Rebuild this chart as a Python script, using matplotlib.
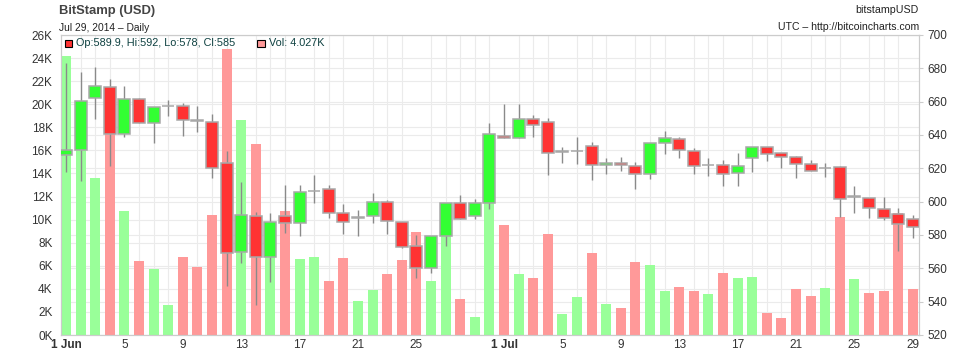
import matplotlib
matplotlib.use("Agg")
import matplotlib.pyplot as plt
import matplotlib.transforms as mtransforms
from matplotlib.lines import Line2D
from matplotlib.patches import Rectangle
import numpy as np
import pandas as pd

plt.rcParams['font.family'] = ['Liberation Sans', 'DejaVu Sans']

# daily OHLC for bitstampUSD, 1 Jun - 29 Jul 2014
dates = pd.date_range('2014-06-01', '2014-07-29', freq='D')

opens = [628, 631, 662, 668.6, 640.4, 661.4, 647, 657.2, 657.6, 648.8,
         648, 623.4, 569.6, 591.6, 566.6, 591.6, 587, 606.2, 607.6, 593,
         590.4, 591.4, 600, 588, 573.6, 560, 579.6, 599.4, 591.4, 599.4,
         639.4, 638, 649.8, 648, 629.6, 630.4, 633.4, 622, 623.4, 621.6,
         616.6, 635, 637.4, 630.6, 621.8, 622, 617, 626.4, 632.6, 629.4,
         626.6, 622.4, 620.2, 620.6, 603.6, 602.4, 595.6, 592.6, 589.9]
highs = [683, 677.6, 680.6, 673.4, 669.4, 662, 657, 661, 659, 657.4,
         652.4, 630.4, 612, 594, 593.4, 610, 610, 616, 610, 598.6,
         595, 605, 601, 588, 580, 579.6, 599.4, 604, 601.4, 647,
         658.6, 658.6, 652, 650, 632.6, 638.6, 635.6, 626, 627, 623.6,
         635, 642.4, 638.6, 632, 626, 625, 629, 632.6, 632.6, 629.4,
         627.6, 625, 623, 621.6, 609.4, 602.4, 603, 596, 592]
lows = [618, 612.6, 649.4, 621.4, 639, 647, 635.4, 651.6, 639.4, 642,
        614.4, 549.6, 563, 538, 552, 581.4, 579.6, 599.4, 590, 580.6,
        579.6, 587.4, 580.6, 572, 554, 557, 573.6, 589.4, 589.4, 595.4,
        638, 638, 638.6, 616, 623, 622.4, 613, 616.4, 618.6, 607.4,
        613.4, 628.4, 626, 616.4, 615.4, 609.6, 609.6, 618, 624.6, 620,
        614.4, 618.4, 615, 591, 593, 590, 589, 570.4, 578]
closes = [631, 660.6, 669.6, 640.4, 661.4, 647, 657, 657.4, 649, 648.6,
          620.4, 569, 592, 566.6, 588, 587, 606, 606.4, 593.4, 587.6,
          590.6, 600, 588.4, 572.6, 560, 579.6, 599.4, 589.4, 599.4, 640.6,
          638, 649.8, 646, 629, 630.4, 630.6, 622, 623.4, 622, 616.6,
          635, 638, 631, 621.4, 622, 616.6, 621.6, 632.6, 628.6, 626.6,
          622.4, 618.4, 620.4, 601.4, 602.6, 596.4, 590.4, 586.6, 585]
# volume in thousands of BTC
volumes = [24.2, 17.0, 13.6, 19.5, 10.75, 6.44, 5.72, 2.6, 6.76, 5.89,
           10.4, 24.8, 18.6, 16.55, 8.5, 10.75, 6.59, 6.76, 4.68, 6.64,
           2.95, 3.9, 5.29, 6.5, 8.93, 4.68, 9.8, 3.12, 1.56, 12.8,
           9.53, 5.29, 4.94, 8.75, 1.82, 3.29, 7.1, 2.69, 2.37, 6.36,
           6.07, 3.81, 4.16, 3.81, 3.55, 5.37, 4.94, 5.03, 1.9, 1.5,
           3.99, 3.4, 4.1, 10.2, 4.85, 3.64, 3.81, 10.6, 4.027]

tick_days = ['2014-06-01', '2014-06-05', '2014-06-09', '2014-06-13', '2014-06-17',
             '2014-06-21', '2014-06-25', '2014-07-01', '2014-07-05', '2014-07-09',
             '2014-07-13', '2014-07-17', '2014-07-21', '2014-07-25', '2014-07-29']
tick_labels = ['1 Jun', '5', '9', '13', '17', '21', '25', '1 Jul',
               '5', '9', '13', '17', '21', '25', '29']

vol_ticks = list(range(0, 27, 2))
price_ticks = list(range(520, 701, 20))

o = np.array(opens)
h = np.array(highs)
l = np.array(lows)
c = np.array(closes)
v = np.array(volumes)
x = np.arange(len(dates))

# colours: candle by open/close, volume by change against previous close
prev = np.concatenate([[c[0] - 1], c[:-1]])
candle_col = np.where(c >= o, '#33ff33', '#ff3333')
vol_col = np.where(c >= prev, '#99ff99', '#ff9999')

fig = plt.figure(figsize=(9.62, 3.54), dpi=100)
ax = fig.add_axes([61 / 962, 19 / 354, 858 / 962, 300 / 354])
ax2 = ax.twinx()
ax2.set_position(ax.get_position())
ax2.patch.set_visible(False)

grid_c = '#ebebeb'
ax.set_axisbelow(True)
ax.set_xticks(x, minor=True)
ax.grid(True, which='minor', axis='x', color=grid_c, linewidth=0.8)
ax.grid(True, which='major', axis='y', color=grid_c, linewidth=0.8)
# price grid lines drawn in the volume axes so they sit behind the bars
trans = mtransforms.blended_transform_factory(ax.transAxes, ax2.transData)
for p in price_ticks:
    ax.add_line(Line2D([0, 1], [p, p], transform=trans, color=grid_c,
                       linewidth=0.8, zorder=0.5))

ax.bar(x, v, width=0.68, color=vol_col, zorder=2)

ax2.vlines(x, l, h, color='#8a8a8a', linewidth=1, zorder=2)
ax2.bar(x, c - o, bottom=o, width=0.82, color=candle_col,
        edgecolor='#a8a8a8', linewidth=1.1, zorder=3)

ax.set_xlim(-0.34, len(x) - 1 + 0.42)
ax.set_ylim(0, 26)
ax2.set_ylim(520, 700)

ax.set_yticks(vol_ticks)
ax.set_yticklabels([f'{t}K' for t in vol_ticks])
ax2.set_yticks(price_ticks)
ax2.set_yticklabels([str(t) for t in price_ticks])

pos = [dates.get_loc(pd.Timestamp(d)) for d in tick_days]
ax.set_xticks(pos)
ax.set_xticklabels(tick_labels)
for lab in ax.get_xticklabels():
    if ' ' in lab.get_text():
        lab.set_fontweight('bold')

for a in (ax, ax2):
    for s in a.spines.values():
        s.set_color('#cccccc')
    a.tick_params(axis='both', which='both', length=0, labelsize=8.5,
                  colors='#333333', pad=4)
ax.tick_params(axis='x', pad=3)
ax.tick_params(axis='y', pad=6)
ax2.tick_params(axis='y', length=3, color='#cccccc', pad=3)

# header texts
fig.text(59 / 962, 1 - 11 / 354, 'BitStamp (USD)', fontsize=9.4, fontweight='bold',
         color='#444444', va='center', ha='left')
fig.text(59 / 962, 1 - 28 / 354, 'Jul 29, 2014 \u2013 Daily', fontsize=7.4,
         color='#222222', va='center', ha='left')
fig.text(919 / 962, 1 - 10 / 354, 'bitstampUSD', fontsize=7.7,
         color='#222222', va='center', ha='right')
fig.text(919 / 962, 1 - 27 / 354, 'UTC \u2013 http://bitcoincharts.com', fontsize=7.6,
         color='#222222', va='center', ha='right')

# legend line
leg_c = '#0d4040'
fig.patches.append(Rectangle((64.5 / 962, 1 - 47 / 354), 7.5 / 962, 7.5 / 354,
                             transform=fig.transFigure, facecolor='#ff3333',
                             edgecolor='black', linewidth=0.8, zorder=10))
fig.text(76 / 962, 1 - 43 / 354,
         f'Op:{o[-1]:g}, Hi:{h[-1]:g}, Lo:{l[-1]:g}, Cl:{c[-1]:g}',
         fontsize=7.8, color=leg_c, va='center', ha='left', zorder=10)
fig.patches.append(Rectangle((257.5 / 962, 1 - 47 / 354), 7.5 / 962, 7.5 / 354,
                             transform=fig.transFigure, facecolor='#ff9999',
                             edgecolor='black', linewidth=0.8, zorder=10))
fig.text(269 / 962, 1 - 43 / 354, f'Vol: {v[-1]:.3f}K',
         fontsize=7.8, color=leg_c, va='center', ha='left', zorder=10)

fig.savefig('out.png', dpi=100)
